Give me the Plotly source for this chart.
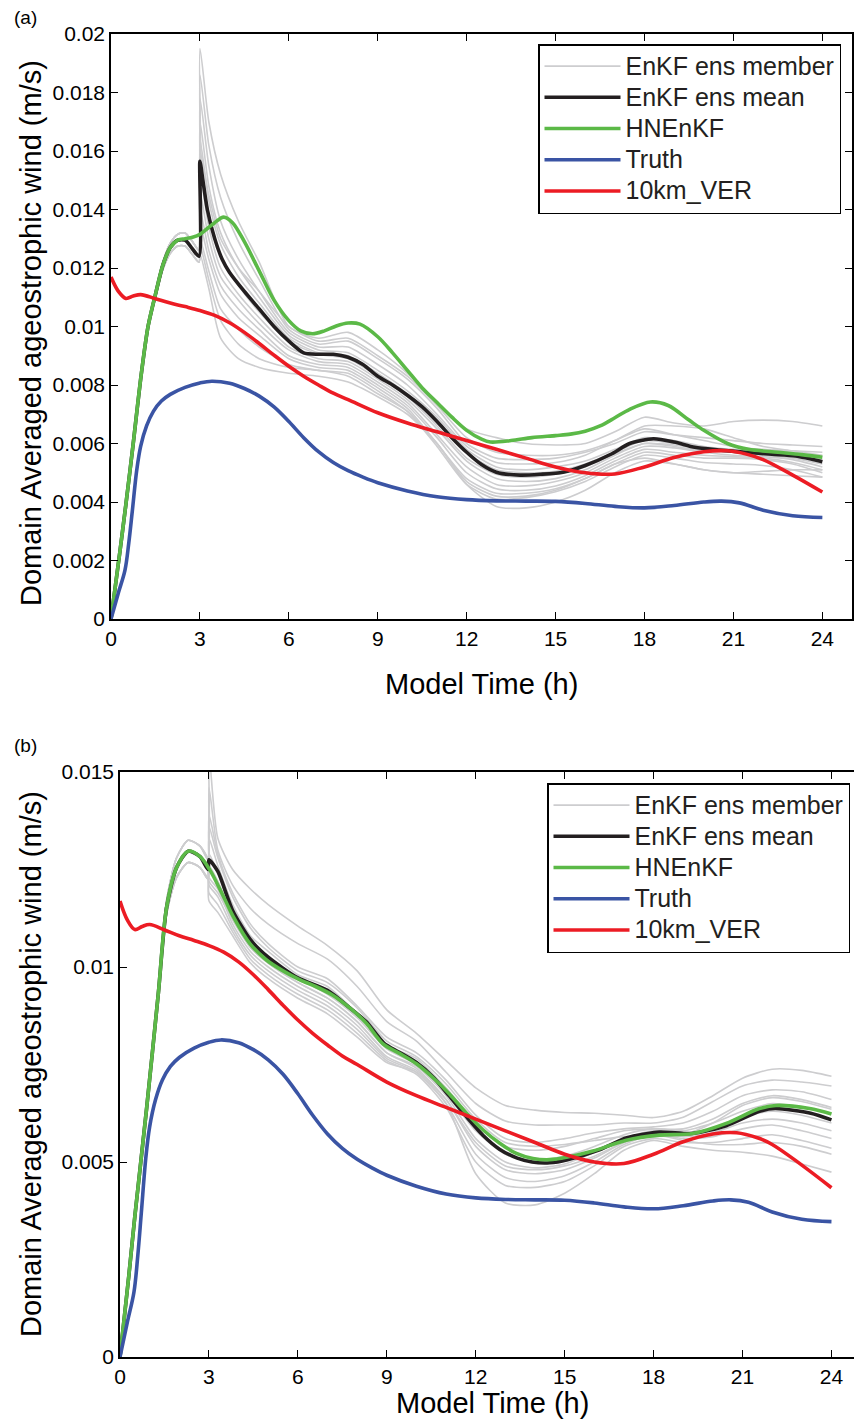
import plotly.graph_objects as go

# All values below are in units of 1e-3 m/s (scaled when plotted)
SCALE = 1e-3

# ---------------- shared series (same in both panels) ----------------
TRUTH_T = [0, 0.25, 0.47, 0.6, 0.72, 0.87, 1.0, 1.2, 1.43, 1.7, 2.0, 2.5, 3.0, 3.4, 4.0, 4.5, 5.0, 5.5,
           6.0, 6.5, 7.0, 7.5, 8.0, 8.5, 9.0, 10.0, 11.0, 12.0, 13.0, 14.0, 15.0, 16.0, 17.0, 18.0,
           19.0, 20.0, 20.6, 21.2, 22.0, 23.0, 24.0]
TRUTH_V = [0, 0.9, 1.66, 2.6, 3.7, 5.1, 5.9, 6.6, 7.1, 7.45, 7.68, 7.92, 8.07, 8.13, 8.06, 7.88, 7.62,
           7.25, 6.75, 6.2, 5.72, 5.35, 5.07, 4.85, 4.66, 4.38, 4.18, 4.08, 4.04, 4.03, 4.02, 3.95,
           3.85, 3.8, 3.88, 4.0, 4.03, 3.97, 3.72, 3.53, 3.47]

VER_T = [0, 0.25, 0.5, 0.75, 1.0, 1.5, 2.0, 2.5, 3.0, 3.5, 4.0, 4.5, 5.0, 5.5, 6.0, 6.5, 7.0, 7.5, 8.0,
         9.0, 10.0, 11.0, 12.0, 13.0, 14.0, 15.0, 16.0, 17.0, 18.0, 19.0, 20.0, 20.8, 21.5, 22.0, 23.0,
         24.0]
VER_V = [11.69, 11.2, 10.96, 11.04, 11.09, 10.95, 10.8, 10.68, 10.55, 10.38, 10.13, 9.8, 9.42, 9.02,
         8.64, 8.3, 8.0, 7.72, 7.5, 7.05, 6.7, 6.4, 6.1, 5.8, 5.5, 5.2, 5.0, 4.96, 5.2, 5.52, 5.72,
         5.75, 5.62, 5.45, 4.92, 4.34]

# ---------------- panel (a) ----------------
A_GREEN_T = [0, 0.3, 0.5, 0.75, 1.0, 1.25, 1.5, 1.75, 2.0, 2.25, 2.5, 2.75, 3.0, 3.25, 3.5, 3.8, 4.1, 4.5,
             5.0, 5.5, 6.0, 6.4, 6.8, 7.2, 7.6, 8.0, 8.4, 9.0, 9.5, 10.0, 10.5, 11.0, 11.5, 12.0, 12.5,
             12.8, 13.5, 14.2, 15.0, 15.5, 16.0, 16.5, 17.0, 17.5, 18.2, 18.8, 19.5, 20.0, 20.8, 21.5,
             22.5, 23.3, 24]
A_GREEN_V = [0, 2.3, 3.9, 6.0, 8.2, 10.0, 11.1, 12.1, 12.7, 12.95, 13.0, 13.05, 13.15, 13.35, 13.55, 13.74,
             13.55, 12.9, 11.9, 10.9, 10.2, 9.85, 9.75, 9.85, 10.02, 10.12, 10.08, 9.65, 9.1, 8.5, 7.9,
             7.4, 6.9, 6.45, 6.15, 6.05, 6.1, 6.2, 6.27, 6.32, 6.42, 6.6, 6.88, 7.17, 7.42, 7.3, 6.8,
             6.45, 6.0, 5.8, 5.7, 5.62, 5.53]

A_MEAN_T = [0, 0.3, 0.5, 0.75, 1.0, 1.25, 1.5, 1.75, 2.0, 2.25, 2.5, 2.75, 2.97, 3.0, 3.1, 3.25, 3.5,
            3.75, 4.0, 4.5, 5.0, 5.5, 6.0, 6.5, 7.0, 7.5, 8.0, 8.5, 9.0, 9.5, 10.0, 10.5, 11.0, 11.5,
            12.0, 12.5, 13.0, 13.8, 14.5, 15.25, 16.0, 16.9, 17.5, 18.3, 19.0, 19.7, 20.5, 21.4, 22.3,
            23.1, 24]
A_MEAN_V = [0, 2.3, 3.9, 6.0, 8.2, 10.0, 11.1, 12.1, 12.7, 12.95, 12.95, 12.65, 12.4, 15.65, 15.0, 14.0,
            13.0, 12.3, 11.85, 11.2, 10.6, 10.0, 9.5, 9.1, 9.05, 9.05, 8.95, 8.7, 8.3, 8.0, 7.65, 7.25,
            6.75, 6.2, 5.7, 5.28, 5.02, 4.92, 4.95, 5.02, 5.25, 5.65, 6.0, 6.16, 6.05, 5.87, 5.78, 5.7,
            5.63, 5.57, 5.38]

# ensemble members: pre-analysis part (t < 3 h) and post-analysis part (t >= 3 h)
A_PRE_T = [0, 0.3, 0.5, 0.75, 1.0, 1.25, 1.5, 1.75, 2.0, 2.25, 2.5, 2.75, 2.97]
A_PRE_HI = [0, 2.3, 3.9, 6.0, 8.2, 10.0, 11.15, 12.2, 12.85, 13.15, 13.2, 12.9, 12.6]
A_PRE_MID = [0, 2.3, 3.9, 6.0, 8.2, 10.0, 11.1, 12.1, 12.7, 12.95, 12.95, 12.65, 12.4]
A_PRE_LO = [0, 2.3, 3.9, 6.0, 8.2, 9.95, 11.0, 11.95, 12.5, 12.75, 12.75, 12.45, 12.2]

A_POST_T = [3.0, 3.3, 3.7, 4.3, 5, 6, 7, 8, 9, 10, 11, 12, 13, 14, 15, 16, 17, 18, 19, 20, 21, 22, 23, 24]
A_MEMBERS = [
    [19.5, 17.0, 15.2, 13.6, 12.2, 10.0, 9.6, 9.8, 9.2, 8.4, 7.4, 6.5, 6.2, 6.0, 5.95, 6.0, 6.4, 6.9, 6.7, 6.6, 6.75, 6.8, 6.75, 6.6],
    [18.6, 16.2, 14.4, 12.9, 11.6, 9.9, 9.4, 9.5, 8.9, 8.2, 7.2, 6.0, 5.5, 5.45, 5.5, 5.7, 6.0, 6.4, 6.3, 6.2, 6.1, 6.0, 5.95, 5.9],
    [17.8, 15.5, 13.6, 12.3, 11.2, 9.8, 9.3, 9.3, 8.7, 8.0, 7.0, 5.9, 5.35, 5.3, 5.35, 5.6, 6.1, 6.5, 6.3, 6.1, 5.9, 5.8, 5.75, 5.7],
    [17.0, 14.8, 13.2, 12.0, 11.0, 9.7, 9.2, 9.1, 8.5, 7.8, 6.9, 5.8, 5.2, 5.1, 5.2, 5.4, 5.8, 6.2, 6.1, 5.9, 5.8, 5.75, 5.7, 5.55],
    [16.4, 14.3, 12.8, 11.7, 10.8, 9.6, 9.1, 9.0, 8.4, 7.7, 6.8, 5.7, 5.1, 5.0, 5.05, 5.3, 5.7, 6.1, 6.0, 5.85, 5.75, 5.7, 5.6, 5.45],
    [15.8, 13.8, 12.4, 11.4, 10.5, 9.5, 9.05, 8.9, 8.3, 7.6, 6.6, 5.5, 4.95, 4.85, 4.95, 5.2, 5.65, 6.0, 5.95, 5.8, 5.7, 5.65, 5.55, 5.4],
    [15.2, 13.4, 12.0, 11.1, 10.3, 9.3, 8.9, 8.8, 8.2, 7.5, 6.5, 5.4, 4.8, 4.7, 4.8, 5.1, 5.6, 6.0, 5.9, 5.75, 5.7, 5.6, 5.5, 5.3],
    [14.6, 13.0, 11.7, 10.9, 10.1, 9.2, 8.8, 8.7, 8.1, 7.4, 6.3, 5.2, 4.6, 4.55, 4.7, 5.0, 5.5, 5.9, 5.85, 5.7, 5.6, 5.55, 5.45, 5.2],
    [14.0, 12.6, 11.4, 10.6, 9.9, 9.0, 8.7, 8.6, 8.0, 7.3, 6.2, 5.0, 4.45, 4.4, 4.55, 4.9, 5.4, 5.8, 5.7, 5.6, 5.55, 5.5, 5.35, 5.1],
    [13.5, 12.3, 11.1, 10.3, 9.7, 8.9, 8.6, 8.5, 7.9, 7.2, 6.0, 4.8, 4.3, 4.3, 4.45, 4.8, 5.3, 5.7, 5.6, 5.5, 5.5, 5.45, 5.3, 5.0],
    [13.0, 11.9, 10.6, 9.9, 9.3, 8.7, 8.5, 8.4, 7.8, 7.1, 5.9, 4.6, 4.1, 4.15, 4.35, 4.7, 5.2, 5.6, 5.5, 5.35, 5.3, 5.25, 5.1, 4.85],
    [12.5, 11.3, 9.6, 8.9, 8.6, 8.4, 8.3, 8.1, 7.6, 7.0, 6.0, 4.6, 3.85, 3.8, 4.0, 4.4, 5.0, 5.4, 5.3, 5.1, 5.0, 4.95, 4.9, 4.85],
    [12.8, 11.6, 10.2, 9.4, 8.9, 8.6, 8.5, 8.3, 7.7, 7.1, 6.0, 4.7, 4.2, 4.2, 4.4, 4.8, 5.3, 5.5, 5.3, 5.1, 5.0, 5.05, 5.1, 5.1],
    [16.0, 14.5, 13.0, 12.0, 11.2, 10.0, 9.5, 9.6, 9.0, 8.3, 7.3, 6.2, 5.7, 5.6, 5.6, 5.75, 6.1, 6.6, 6.6, 6.5, 6.2, 5.9, 5.75, 5.6],
]

# ---------------- panel (b) ----------------
B_GREEN_T = [0, 0.3, 0.5, 0.9, 1.29, 1.57, 1.91, 2.3, 2.7, 3.03, 3.4, 3.82, 4.38, 4.94, 5.5, 6.07, 6.6,
             7.19, 7.75, 8.31, 8.87, 9.44, 10.0, 10.56, 11.12, 11.69, 12.25, 12.81, 13.37, 13.93, 14.49,
             15.06, 15.95, 17.08, 18.2, 19.32, 20.45, 21.57, 22.13, 23.26, 24.0]
B_GREEN_V = [0, 2.1, 3.6, 6.39, 9.3, 11.52, 12.55, 12.97, 12.83, 12.49, 11.95, 11.29, 10.6, 10.18, 9.9,
             9.67, 9.5, 9.27, 8.95, 8.56, 8.03, 7.78, 7.52, 7.16, 6.74, 6.25, 5.82, 5.48, 5.22, 5.09, 5.06,
             5.12, 5.28, 5.56, 5.69, 5.73, 5.99, 6.37, 6.45, 6.37, 6.23]

B_MEAN_T = [0, 0.3, 0.5, 0.9, 1.29, 1.57, 1.91, 2.3, 2.7, 2.97, 3.0, 3.3, 3.8, 4.4, 5.0, 6.0, 7.0, 7.75,
            8.3, 8.9, 9.4, 10.0, 10.6, 11.1, 11.7, 12.25, 12.8, 13.4, 13.9, 14.5, 15.1, 16.2, 17.1, 18.2,
            19.3, 20.45, 21.57, 22.1, 23.3, 24.0]
B_MEAN_V = [0, 2.1, 3.6, 6.39, 9.3, 11.52, 12.55, 12.97, 12.83, 12.5, 12.75, 12.45, 11.45, 10.7, 10.25,
            9.72, 9.4, 8.95, 8.6, 8.05, 7.82, 7.55, 7.15, 6.7, 6.15, 5.68, 5.33, 5.1, 5.0, 4.98, 5.06,
            5.32, 5.62, 5.77, 5.73, 5.93, 6.3, 6.37, 6.25, 6.08]

B_PRE_T = [0, 0.3, 0.5, 0.9, 1.29, 1.57, 1.91, 2.3, 2.7, 2.97]
B_PRE_HI = [0, 2.1, 3.6, 6.4, 9.4, 11.7, 12.8, 13.25, 13.1, 12.75]
B_PRE_MID = [0, 2.1, 3.6, 6.39, 9.3, 11.52, 12.55, 12.97, 12.83, 12.5]
B_PRE_LO = [0, 2.1, 3.6, 6.35, 9.2, 11.35, 12.3, 12.68, 12.55, 12.25]

B_POST_T = [3.0, 3.3, 3.8, 4.4, 5, 6, 7, 8, 9, 10, 11, 12, 13, 14, 15, 16, 17, 18, 19, 20, 21, 22, 23, 24]
B_MEMBERS = [
    [15.5, 13.3, 12.5, 12.0, 11.6, 11.05, 10.55, 9.9, 8.9, 8.3, 7.6, 6.9, 6.45, 6.33, 6.27, 6.25, 6.2, 6.14, 6.3, 6.7, 7.15, 7.38, 7.35, 7.2],
    [14.6, 13.0, 12.1, 11.5, 11.1, 10.6, 10.2, 9.5, 8.6, 8.1, 7.3, 6.5, 6.05, 5.95, 5.95, 5.95, 6.0, 6.0, 6.15, 6.55, 6.95, 7.1, 7.05, 6.95],
    [13.9, 12.9, 11.9, 11.1, 10.6, 10.0, 9.7, 9.0, 8.2, 7.8, 7.1, 6.2, 5.6, 5.5, 5.6, 5.75, 5.85, 5.9, 6.0, 6.3, 6.7, 6.85, 6.8, 6.6],
    [13.3, 12.6, 11.6, 10.8, 10.4, 9.8, 9.5, 8.8, 8.0, 7.65, 6.9, 6.0, 5.4, 5.3, 5.4, 5.6, 5.8, 5.85, 5.85, 6.1, 6.5, 6.7, 6.6, 6.4],
    [12.9, 12.4, 11.4, 10.6, 10.2, 9.7, 9.3, 8.7, 7.9, 7.5, 6.75, 5.8, 5.2, 5.05, 5.15, 5.4, 5.7, 5.85, 5.8, 6.0, 6.3, 6.5, 6.4, 6.25],
    [12.6, 12.2, 11.3, 10.5, 10.1, 9.6, 9.2, 8.6, 7.8, 7.45, 6.7, 5.6, 5.0, 4.85, 4.95, 5.25, 5.6, 5.8, 5.7, 5.85, 6.15, 6.3, 6.2, 6.0],
    [12.3, 12.0, 11.1, 10.4, 10.0, 9.5, 9.1, 8.5, 7.7, 7.35, 6.6, 5.4, 4.8, 4.7, 4.8, 5.1, 5.5, 5.75, 5.65, 5.75, 6.0, 6.1, 6.0, 5.8],
    [12.1, 11.8, 11.0, 10.3, 9.9, 9.4, 9.0, 8.4, 7.65, 7.3, 6.5, 5.2, 4.6, 4.5, 4.65, 5.0, 5.45, 5.7, 5.6, 5.65, 5.85, 5.95, 5.8, 5.6],
    [11.9, 11.6, 10.9, 10.2, 9.8, 9.3, 8.9, 8.3, 7.6, 7.25, 6.4, 5.0, 4.4, 4.35, 4.5, 4.9, 5.4, 5.6, 5.5, 5.5, 5.6, 5.7, 5.55, 5.35],
    [11.7, 11.4, 10.8, 10.1, 9.7, 9.2, 8.8, 8.2, 7.55, 7.3, 6.5, 4.7, 3.95, 3.9, 4.2, 4.7, 5.3, 5.55, 5.4, 5.3, 5.25, 5.15, 4.95, 4.74],
    [12.2, 11.9, 11.2, 10.5, 10.1, 9.6, 9.2, 8.6, 7.8, 7.4, 6.6, 5.5, 4.9, 4.8, 4.9, 5.15, 5.5, 5.7, 5.55, 5.45, 5.45, 5.5, 5.4, 5.2],
    [13.6, 12.8, 11.8, 11.0, 10.5, 9.9, 9.6, 8.95, 8.1, 7.7, 7.0, 6.1, 5.5, 5.4, 5.45, 5.55, 5.65, 5.65, 5.7, 6.0, 6.45, 6.65, 6.55, 6.35],
]

NAMES = ["EnKF ens member", "EnKF ens mean", "HNEnKF", "Truth", "10km_VER"]
X_TICKS = [0, 3, 6, 9, 12, 15, 18, 21, 24]
TITLE_X = "Model Time (h)"
TITLE_Y = "Domain Averaged ageostrophic wind (m/s)"

# ---------------- styling ----------------
FONT = "Liberation Sans, Arial, Helvetica, sans-serif"
C_MEMBER = "#cdcdcf"
C_MEAN = "#231f20"
C_GREEN = "#5bb947"
C_BLUE = "#3a54a4"
C_RED = "#ec1c24"
W = 3.6
W_MEM = 1.6
W_PX, H_PX = 854, 1422
LEG_TEXT_PX = 25     # visible legend text size
LEG_ROW_FONT = 21.7  # sets legend row spacing


def sc(vals):
    return [v * SCALE for v in vals]


def leg_name(s):
    return '<span style="font-size:%dpx">%s</span>' % (LEG_TEXT_PX, s)


fig = go.Figure()


def add_panel(xa, ya, leg, pre_t, pre_sets, post_t, members, mean_t, mean_v, green_t, green_v):
    for i, m in enumerate(members):
        pre = pre_sets[i % len(pre_sets)]
        fig.add_trace(go.Scatter(
            x=pre_t + post_t, y=sc(pre + m), mode="lines",
            line=dict(color=C_MEMBER, width=W_MEM, shape="spline", smoothing=0.7),
            name=leg_name(NAMES[0]), legendgroup=leg + "m", showlegend=(i == 0), legend=leg,
            xaxis=xa, yaxis=ya, hoverinfo="skip"))
    fig.add_trace(go.Scatter(x=mean_t, y=sc(mean_v), mode="lines",
                             line=dict(color=C_MEAN, width=W, shape="spline", smoothing=0.7),
                             name=leg_name(NAMES[1]), legend=leg, xaxis=xa, yaxis=ya))
    fig.add_trace(go.Scatter(x=green_t, y=sc(green_v), mode="lines",
                             line=dict(color=C_GREEN, width=W, shape="spline", smoothing=0.9),
                             name=leg_name(NAMES[2]), legend=leg, xaxis=xa, yaxis=ya))
    fig.add_trace(go.Scatter(x=TRUTH_T, y=sc(TRUTH_V), mode="lines",
                             line=dict(color=C_BLUE, width=W, shape="spline", smoothing=1.0),
                             name=leg_name(NAMES[3]), legend=leg, xaxis=xa, yaxis=ya))
    fig.add_trace(go.Scatter(x=VER_T, y=sc(VER_V), mode="lines",
                             line=dict(color=C_RED, width=W, shape="spline", smoothing=1.0),
                             name=leg_name(NAMES[4]), legend=leg, xaxis=xa, yaxis=ya))


add_panel("x", "y", "legend", A_PRE_T, [A_PRE_HI, A_PRE_MID, A_PRE_LO], A_POST_T, A_MEMBERS,
          A_MEAN_T, A_MEAN_V, A_GREEN_T, A_GREEN_V)
add_panel("x2", "y2", "legend2", B_PRE_T, [B_PRE_HI, B_PRE_MID, B_PRE_LO], B_POST_T, B_MEMBERS,
          B_MEAN_T, B_MEAN_V, B_GREEN_T, B_GREEN_V)

axis_common = dict(showline=True, linecolor="black", linewidth=1.5, mirror="ticks",
                   ticks="inside", ticklen=7, tickwidth=1.2, tickcolor="black",
                   showgrid=False, zeroline=False,
                   tickfont=dict(family=FONT, size=21, color="black"))


def px_x(px):
    return px / W_PX


def px_y(py):
    return 1 - py / H_PX


leg_common = dict(xanchor="left", yanchor="top", bgcolor="white", bordercolor="black", borderwidth=1.5,
                  font=dict(family=FONT, size=LEG_ROW_FONT, color="#231f20"), itemwidth=76,
                  tracegroupgap=0)

yaxis2_style = dict(axis_common)
yaxis2_style["mirror"] = False  # right frame edge is cut off in the original

fig.update_layout(
    width=W_PX, height=H_PX,
    margin=dict(l=0, r=0, t=0, b=0, autoexpand=False),
    paper_bgcolor="white", plot_bgcolor="white",
    font=dict(family=FONT, color="black"),
    xaxis=dict(domain=[px_x(111), px_x(852)], range=[0, 25], tickvals=X_TICKS, anchor="y", **axis_common),
    yaxis=dict(domain=[px_y(619), px_y(34)], range=[0, 0.02], dtick=0.002, anchor="x", **axis_common),
    xaxis2=dict(domain=[px_x(120), 1.0], range=[0, 24.76], tickvals=X_TICKS, anchor="y2", **axis_common),
    yaxis2=dict(domain=[px_y(1357), px_y(772)], range=[0, 0.015], dtick=0.005, anchor="x2", **yaxis2_style),
    legend=dict(x=px_x(538), y=px_y(44), **leg_common),
    legend2=dict(x=px_x(547), y=px_y(783), **leg_common),
    showlegend=True,
)

ann = []
for lbl, yy in [("(a)", 18), ("(b)", 745)]:
    ann.append(dict(text=lbl, x=px_x(12), y=px_y(yy), xref="paper", yref="paper", xanchor="left",
                    yanchor="middle", showarrow=False, font=dict(family=FONT, size=19)))
for xc, yc in [(482, 684), (492, 1403)]:
    ann.append(dict(text=TITLE_X, x=px_x(xc), y=px_y(yc), xref="paper", yref="paper", xanchor="center",
                    yanchor="middle", showarrow=False, font=dict(family=FONT, size=29)))
for yc in [333, 1064]:
    ann.append(dict(text=TITLE_Y, x=px_x(31), y=px_y(yc), xref="paper", yref="paper", xanchor="center",
                    yanchor="middle", textangle=-90, showarrow=False, font=dict(family=FONT, size=29)))
fig.update_layout(annotations=ann)

# remove the browser's default page margin so the figure sits at the window origin
fig.write_html("out.html", config={"displayModeBar": False},
               post_script="document.body.style.margin='0px';document.body.style.overflow='hidden';")
